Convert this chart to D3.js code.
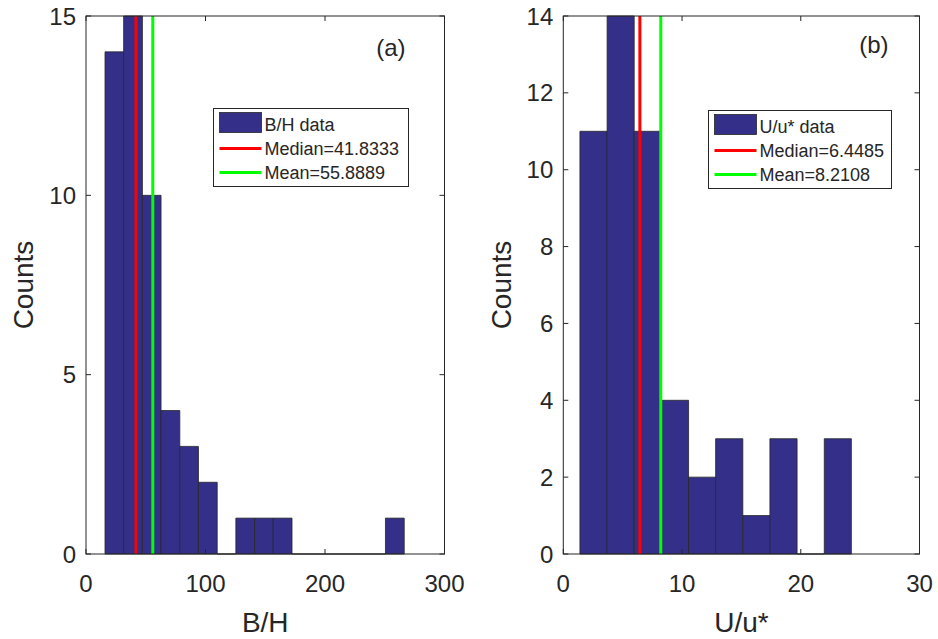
<!DOCTYPE html>
<html>
<head>
<meta charset="utf-8">
<script src="https://cdn.jsdelivr.net/npm/d3@7"></script>
<style>
  html, body { margin: 0; padding: 0; background: #fff; }
  svg { display: block; }
  text { font-family: "Liberation Sans", Arial, Helvetica, sans-serif; fill: #262626; }
</style>
</head>
<body>
<svg id="chart" width="938" height="639"></svg>
<script>
// Panel (a): B/H histogram
const bhEdges = [15.9, 31.5, 47.2, 62.8, 78.5, 94.1, 109.8, 125.4, 141.1, 156.7, 172.4, 188.0, 203.7, 219.3, 235.0, 250.6, 266.3];
const bhCounts = [14, 15, 10, 4, 3, 2, 0, 1, 1, 1, 0, 0, 0, 0, 0, 1];
const bhMedian = 41.8333;
const bhMean = 55.8889;
const bhXTicks = [0, 100, 200, 300];
const bhYTicks = [0, 5, 10, 15];

// Panel (b): U/u* histogram
const uEdges = [1.40, 3.69, 5.97, 8.26, 10.55, 12.83, 15.12, 17.40, 19.69, 21.98, 24.26];
const uCounts = [11, 14, 11, 4, 2, 3, 1, 3, 0, 3];
const uMedian = 6.4485;
const uMean = 8.2108;
const uXTicks = [0, 10, 20, 30];
const uYTicks = [0, 2, 4, 6, 8, 10, 12, 14];

const svg = d3.select("#chart");
const BAR_FILL = "#34308a";
const INK = "#262626";

function drawPanel(p) {
  const g = svg.append("g");
  const x = d3.scaleLinear().domain(p.xDomain).range([p.left, p.right]);
  const y = d3.scaleLinear().domain(p.yDomain).range([p.bottom, p.top]);

  // bars (outlined paths so empty bins still show as a flat edge)
  const bins = p.counts.map((c, i) => ({ x0: p.edges[i], x1: p.edges[i + 1], c }));
  g.append("g").selectAll("path").data(bins).join("path")
    .attr("d", d => {
      const x0 = x(d.x0), x1 = x(d.x1), y0 = y(0), y1 = y(d.c);
      return `M${x0},${y0}V${y1}H${x1}V${y0}Z`;
    })
    .attr("fill", BAR_FILL)
    .attr("stroke", INK)
    .attr("stroke-width", 0.8);

  // median and mean lines
  const stats = [
    { v: p.median, color: "#ff0000" },
    { v: p.mean, color: "#00ff00" }
  ];
  g.append("g").selectAll("line").data(stats).join("line")
    .attr("x1", d => x(d.v)).attr("x2", d => x(d.v))
    .attr("y1", y(p.yDomain[0])).attr("y2", y(p.yDomain[1]))
    .attr("stroke", d => d.color)
    .attr("stroke-width", 3);

  // box with inward ticks on all four sides
  const tickLen = 5;
  const axisG = g.append("g").attr("stroke", INK).attr("stroke-width", 1).attr("fill", "none");
  axisG.append("rect")
    .attr("x", p.left).attr("y", p.top)
    .attr("width", p.right - p.left).attr("height", p.bottom - p.top);

  axisG.selectAll("line.xb").data(p.xTicks).join("line").attr("class", "xb")
    .attr("x1", d => x(d)).attr("x2", d => x(d))
    .attr("y1", p.bottom).attr("y2", p.bottom - tickLen);
  axisG.selectAll("line.xt").data(p.xTicks).join("line").attr("class", "xt")
    .attr("x1", d => x(d)).attr("x2", d => x(d))
    .attr("y1", p.top).attr("y2", p.top + tickLen);
  axisG.selectAll("line.yl").data(p.yTicks).join("line").attr("class", "yl")
    .attr("x1", p.left).attr("x2", p.left + tickLen)
    .attr("y1", d => y(d)).attr("y2", d => y(d));
  axisG.selectAll("line.yr").data(p.yTicks).join("line").attr("class", "yr")
    .attr("x1", p.right).attr("x2", p.right - tickLen)
    .attr("y1", d => y(d)).attr("y2", d => y(d));

  // tick labels
  g.append("g").selectAll("text").data(p.xTicks).join("text")
    .attr("x", d => x(d)).attr("y", p.bottom + 38)
    .attr("text-anchor", "middle")
    .attr("font-size", 24)
    .text(d => d);
  g.append("g").selectAll("text").data(p.yTicks).join("text")
    .attr("x", p.left - 10).attr("y", d => y(d) + 8.5)
    .attr("text-anchor", "end")
    .attr("font-size", 24)
    .text(d => d);

  // axis labels
  g.append("text")
    .attr("x", (p.left + p.right) / 2).attr("y", 632)
    .attr("text-anchor", "middle")
    .attr("font-size", 28)
    .text(p.xLabel);
  g.append("text")
    .attr("transform", `translate(${p.yLabelX},${(p.top + p.bottom) / 2 + 0})rotate(-90)`)
    .attr("text-anchor", "middle")
    .attr("font-size", 28)
    .text("Counts");

  // panel tag
  g.append("text")
    .attr("x", p.tagX).attr("y", p.tagY)
    .attr("text-anchor", "end")
    .attr("font-size", 24)
    .text(p.tag);

  // legend
  const L = p.legend;
  const lg = g.append("g");
  lg.append("rect")
    .attr("x", L.x).attr("y", L.y).attr("width", L.w).attr("height", L.h)
    .attr("fill", "#fff").attr("stroke", INK).attr("stroke-width", 1);
  lg.append("rect")
    .attr("x", L.x + 6).attr("y", L.y + 4).attr("width", 42).attr("height", 20)
    .attr("fill", BAR_FILL).attr("stroke", INK).attr("stroke-width", 0.8);
  const lineRows = [
    { dy: 40, color: "#ff0000" },
    { dy: 64, color: "#00ff00" }
  ];
  lg.selectAll("line").data(lineRows).join("line")
    .attr("x1", L.x + 6).attr("x2", L.x + 48)
    .attr("y1", d => L.y + d.dy).attr("y2", d => L.y + d.dy)
    .attr("stroke", d => d.color).attr("stroke-width", 3);
  const labels = [
    p.seriesName,
    "Median=" + p.median.toFixed(4),
    "Mean=" + p.mean.toFixed(4)
  ];
  lg.selectAll("text").data(labels).join("text")
    .attr("x", L.x + 51)
    .attr("y", (d, i) => L.y + 22 + i * 24.3)
    .attr("font-size", 18)
    .text(d => d);
}

drawPanel({
  left: 86, right: 444.5, top: 16, bottom: 554,
  xDomain: [0, 300], yDomain: [0, 15],
  edges: bhEdges, counts: bhCounts,
  median: bhMedian, mean: bhMean,
  xTicks: bhXTicks, yTicks: bhYTicks,
  xLabel: "B/H", yLabelX: 33,
  tag: "(a)", tagX: 405.5, tagY: 56,
  seriesName: "B/H data",
  legend: { x: 213.5, y: 108.5, w: 195, h: 78 }
});

drawPanel({
  left: 563.3, right: 919.5, top: 16, bottom: 554,
  xDomain: [0, 30], yDomain: [0, 14],
  edges: uEdges, counts: uCounts,
  median: uMedian, mean: uMean,
  xTicks: uXTicks, yTicks: uYTicks,
  xLabel: "U/u*", yLabelX: 511,
  tag: "(b)", tagX: 888.5, tagY: 53,
  seriesName: "U/u* data",
  legend: { x: 708.5, y: 110.5, w: 183, h: 78 }
});
</script>
</body>
</html>
